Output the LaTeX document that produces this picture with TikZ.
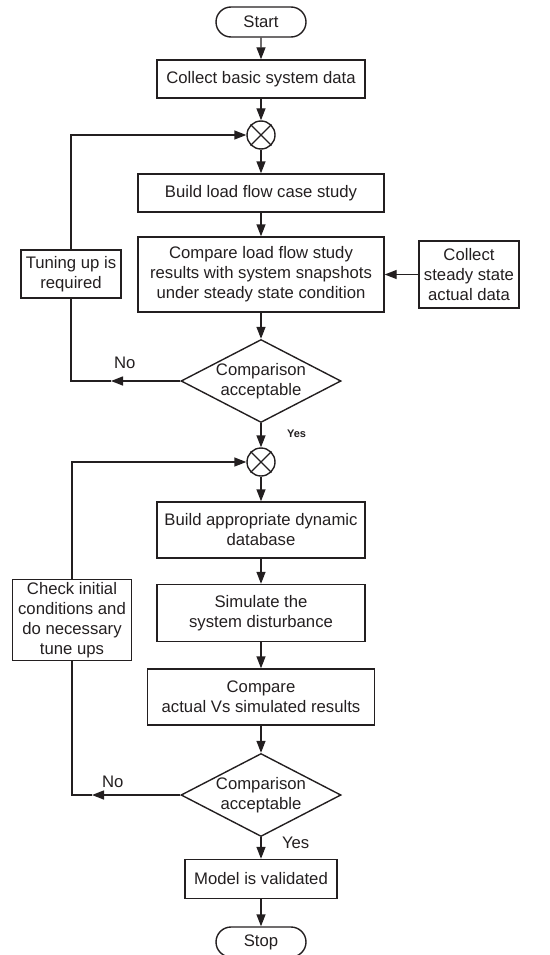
\documentclass[tikz,border=0pt]{standalone}
\usepackage{fontspec}
\setmainfont{Liberation Sans}
\usepackage{tikz}
\usetikzlibrary{shapes.geometric,shapes.misc,arrows.meta}
\definecolor{ink}{HTML}{231F20}
\tikzstyle{proc}=[rectangle, draw, align=center, inner sep=0pt]
\tikzstyle{term}=[rounded rectangle, draw, inner sep=0pt, minimum width=90pt, minimum height=30pt]
\tikzstyle{decide}=[diamond, draw, align=center, inner sep=0pt, aspect=1.93, minimum width=160pt, minimum height=83pt]
\tikzstyle{junction}=[circle, draw, inner sep=0pt, minimum size=28pt]

\begin{document}
\begin{tikzpicture}[x=1pt, y=-1pt, line width=1.4pt, draw=ink, color=ink,
                    >={Triangle[length=12pt, width=9pt]},
                    every node/.style={font=\fontsize{16.7}{20}\selectfont}]
                    \useasboundingbox (0,0) rectangle (549,955);
                    \node[term] (start) at (261, 22) {Start};
                    \node[proc, minimum width=208pt, minimum height=38pt] (basic) at (261, 79) {Collect basic system data};
                    \node[junction] (x1) at (261, 135) {};
                    \node[proc, minimum width=246pt, minimum height=38pt] (lf) at (261, 193) {Build load flow case study};
                    \node[proc, minimum width=246pt, minimum height=75pt] (cmp1) at (261, 274.5) {Compare load flow study\\results with system snapshots\\under steady state condition};
                    \node[proc, minimum width=100pt, minimum height=67pt] (steady) at (469, 274.5) {Collect\\steady state\\actual data};
                    \node[proc, minimum width=100pt, minimum height=48pt] (tune) at (71, 274) {Tuning up is\\required};
                    \node[decide] (d1) at (261, 381) {Comparison\\acceptable};
                    \node[anchor=west, font=\fontsize{11}{13}\selectfont\bfseries] (yes1) at (283, 434) {Yes};
                    \node[anchor=west] (no1) at (110, 363) {No};
                    \node[junction] (x2) at (261, 462) {};
                    \node[proc, minimum width=208pt, minimum height=56pt] (dyn) at (261, 530) {Build appropriate dynamic\\database};
                    \node[proc, minimum width=208pt, minimum height=57pt] (sim) at (261, 613) {Simulate the\\system disturbance};
                    \node[proc, minimum width=227pt, minimum height=56pt] (cmp2) at (261, 697) {Compare\\actual Vs simulated results};
                    \node[proc, minimum width=119pt, minimum height=81pt] (check) at (72, 620) {Check initial\\conditions and\\do necessary\\tune ups};
                    \node[decide] (d2) at (261, 795) {Comparison\\acceptable};
                    \node[anchor=west] (yes2) at (278, 843) {Yes};
                    \node[anchor=west] (no2) at (98, 782) {No};
                    \node[proc, minimum width=152pt, minimum height=39pt] (valid) at (261, 879) {Model is validated};
                    \node[term] (stop) at (261, 942) {Stop};
                    \coordinate (n1) at (111, 381);
                    \coordinate (n2) at (92, 795);
                    \draw (x1.north west) -- (x1.south east);
                    \draw (x1.north east) -- (x1.south west);
                    \draw (x2.north west) -- (x2.south east);
                    \draw (x2.north east) -- (x2.south west);
                    \draw[->] (start) -- (basic);
                    \draw[->] (basic) -- (x1);
                    \draw[->] (x1) -- (lf);
                    \draw[->] (lf) -- (cmp1);
                    \draw[->] (steady) -- (cmp1);
                    \draw[->] (cmp1) -- (d1);
                    \draw[->] (d1.south) -- (x2.north);
                    \draw[->] (x2) -- (dyn);
                    \draw[->] (dyn) -- (sim);
                    \draw[->] (sim) -- (cmp2);
                    \draw[->] (cmp2) -- (d2);
                    \draw[->] (d2.south) -- (valid.north);
                    \draw[->] (valid) -- (stop);
                    \draw[->] (d1.west) -- (n1);
                    \draw (n1) -| (tune.south);
                    \draw[->] (tune.north) |- (x1.west);
                    \draw[->] (d2.west) -- (n2);
                    \draw (n2) -| (check.south);
                    \draw[->] (check.north) |- (x2.west);
                \end{tikzpicture}
\end{document}
